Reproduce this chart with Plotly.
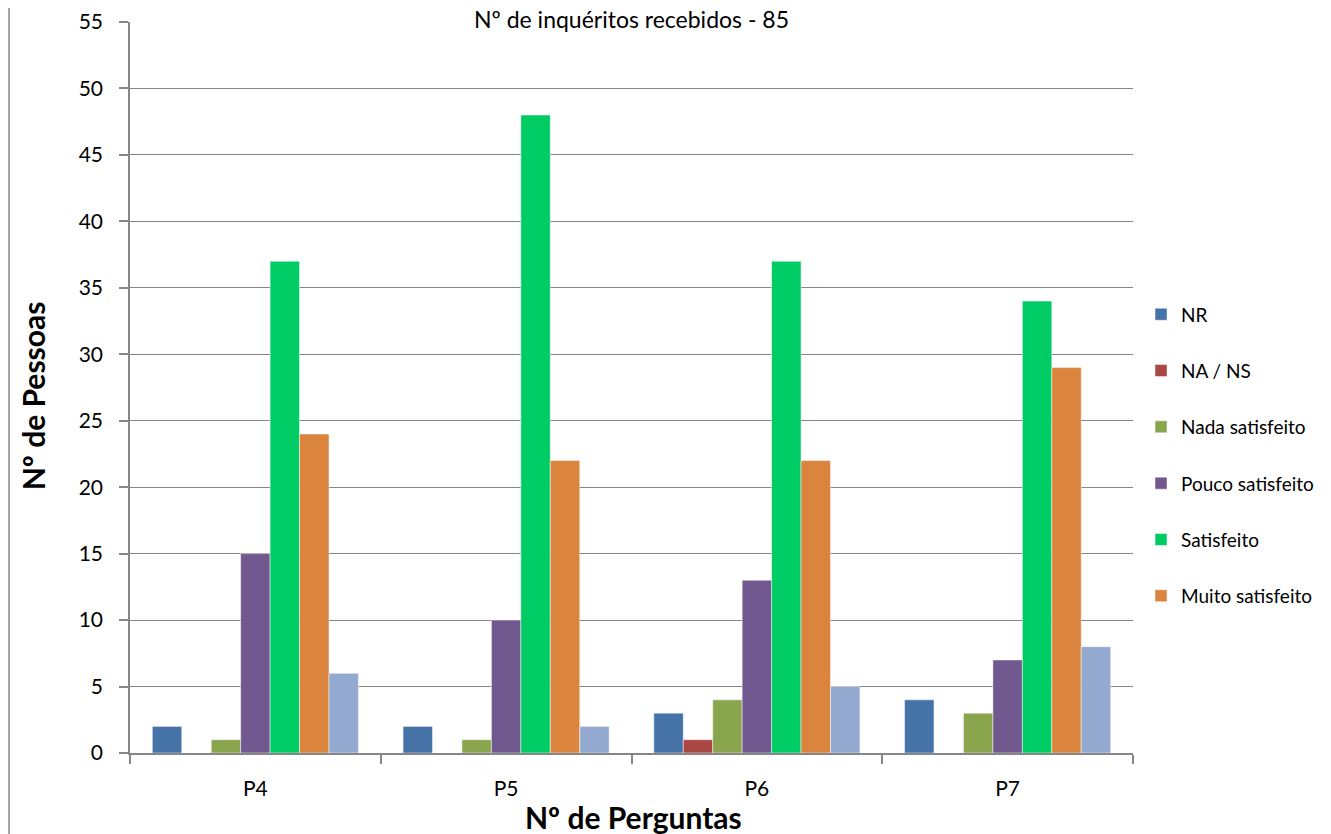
import plotly.graph_objects as go

categories = ["P4", "P5", "P6", "P7"]
series_names = ["NR", "NA / NS", "Nada satisfeito", "Pouco satisfeito", "Satisfeito", "Muito satisfeito", ""]
nr = [2, 2, 3, 4]
na_ns = [0, 0, 1, 0]
nada = [1, 1, 4, 3]
pouco = [15, 10, 13, 7]
satisfeito = [37, 48, 37, 34]
muito = [24, 22, 22, 29]
extra = [6, 2, 5, 8]
y_ticks = list(range(0, 56, 5))

values = [nr, na_ns, nada, pouco, satisfeito, muito, extra]
colors = ["#4572A7", "#AA4643", "#89A54E", "#71588F", "#00CC66", "#DB843D", "#93A9CF"]

FONT = "Lato, 'Open Sans', sans-serif"

fig = go.Figure()
for i, (name, vals, col) in enumerate(zip(series_names, values, colors)):
    fig.add_trace(go.Bar(
        x=categories, y=vals, name=name,
        marker=dict(color=col, line=dict(color="rgba(255,255,255,0.6)", width=0.8)),
        showlegend=(name != ""),
        legendgroup=f"g{i}",
    ))

fig.update_layout(
    width=1323, height=826,
    margin=dict(l=122, r=198, t=14, b=81, autoexpand=False),
    paper_bgcolor="white", plot_bgcolor="white",
    barmode="group", bargap=0.178, bargroupgap=0,
    font=dict(family=FONT, size=21, color="#000000"),
    legend=dict(
        x=1.008, y=0.626, xanchor="left", yanchor="top",
        font=dict(family=FONT, size=19, color="#000000"),
        tracegroupgap=28.6, itemwidth=30,
        bgcolor="rgba(0,0,0,0)",
    ),
    xaxis=dict(
        type="category", showgrid=False, showline=True, linecolor="#868686", linewidth=1.5,
        ticks="outside", tickson="boundaries", ticklen=9, tickcolor="#868686", tickwidth=1.5,
        tickfont=dict(family=FONT, size=21), ticklabelstandoff=16, automargin=False,
    ),
    yaxis=dict(
        range=[0, 55], tickvals=y_ticks, showgrid=True, gridcolor="#868686", gridwidth=1.2,
        showline=True, linecolor="#868686", linewidth=1.5, zeroline=False,
        ticks="outside", ticklen=9, tickcolor="#868686", tickwidth=1.5,
        tickfont=dict(family=FONT, size=21), ticklabelstandoff=12, automargin=False,
    ),
    annotations=[
        dict(text="Nº de inquéritos recebidos - 85", xref="paper", yref="paper", x=0.5, y=1,
             xanchor="center", yanchor="middle", yshift=3, showarrow=False,
             font=dict(family=FONT, size=23, color="#000000")),
        dict(text="<b>Nº de Pessoas</b>", xref="paper", yref="paper", x=-0.097, y=0.489,
             xanchor="center", yanchor="middle", textangle=-90, showarrow=False,
             font=dict(family=FONT, size=30, color="#000000")),
        dict(text="<b>Nº de Perguntas</b>", xref="paper", yref="paper", x=0.5015, y=0, yshift=-64,
             xanchor="center", yanchor="middle", showarrow=False,
             font=dict(family=FONT, size=30, color="#000000")),
    ],
    shapes=[
        dict(type="line", xref="paper", yref="paper", x0=-0.1206, x1=-0.1206, y0=-0.12, y1=1.03,
             line=dict(color="#868686", width=1.5)),
    ],
)

fig.write_html("out.html")
